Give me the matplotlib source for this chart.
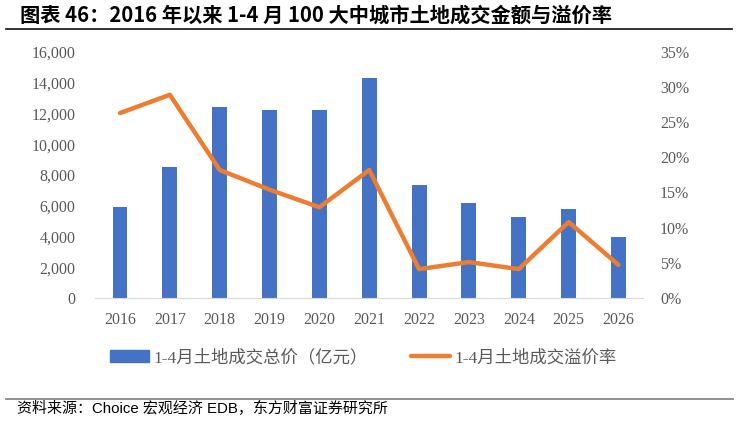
import matplotlib.pyplot as plt
from matplotlib.lines import Line2D
from matplotlib.ticker import FuncFormatter, MultipleLocator
import numpy as np

years = ["2016", "2017", "2018", "2019", "2020", "2021", "2022", "2023", "2024", "2025", "2026"]
total_price = [5900, 8500, 12400, 12250, 12250, 14300, 7350, 6180, 5270, 5790, 3970]
premium_rate = [26.3, 28.9, 18.2, 15.4, 12.9, 18.2, 4.1, 5.1, 4.1, 10.8, 4.7]

bar_label = "1-4月土地成交总价（亿元）"
line_label = "1-4月土地成交溢价率"
title = "图表 46：2016 年以来 1-4 月 100 大中城市土地成交金额与溢价率"
source = "资料来源：Choice 宏观经济 EDB，东方财富证券研究所"

serif = ["Liberation Serif", "Noto Sans CJK SC"]
cjk = ["Noto Sans CJK SC", "DejaVu Sans"]
gray = "#595959"

fig = plt.figure(figsize=(7.37, 4.22), dpi=100)
ax = fig.add_axes([0.129, 0.294, 0.744, 0.583])
ax2 = ax.twinx()

x = np.arange(len(years))
ax.bar(x, total_price, width=0.3, color="#4472C4", zorder=2)
ax2.plot(x, premium_rate, color="#ED7D31", lw=3.2, solid_capstyle="round",
         solid_joinstyle="round", zorder=3)

ax.set_xlim(-0.5, len(years) - 0.5)
ax.set_ylim(0, 16000)
ax2.set_ylim(0, 35)
ax.yaxis.set_major_locator(MultipleLocator(2000))
ax2.yaxis.set_major_locator(MultipleLocator(5))
ax.yaxis.set_major_formatter(FuncFormatter(lambda v, p: f"{v:,.0f}"))
ax2.yaxis.set_major_formatter(FuncFormatter(lambda v, p: f"{v:.0f}%"))
ax.set_xticks(x)
ax.set_xticklabels(years)

for a in (ax, ax2):
    for s in a.spines.values():
        s.set_visible(False)
    a.tick_params(length=0, labelsize=11.5, labelcolor=gray)
    for lab in a.get_xticklabels() + a.get_yticklabels():
        lab.set_family(serif)
ax.spines["bottom"].set_visible(True)
ax.spines["bottom"].set_color("#D9D9D9")
ax.tick_params(axis="y", pad=14)
ax.tick_params(axis="x", pad=10)
ax2.tick_params(axis="y", pad=12)

handles = [plt.Rectangle((0, 0), 1, 1, color="#4472C4"),
           Line2D([], [], color="#ED7D31", lw=3.2, solid_capstyle="round")]
fig.legend(handles, [bar_label, line_label], loc="center left",
           bbox_to_anchor=(0.1275, 0.152), ncol=2, frameon=False,
           prop={"family": serif, "size": 12.5}, labelcolor=gray,
           handlelength=2.25, handletextpad=0.25, columnspacing=2.5)

fig.text(0.027, 0.964, title, fontsize=14.6, fontweight="bold",
         family=cjk, va="center", ha="left")
fig.add_artist(Line2D([0.008, 0.993], [0.931, 0.931], color="#222222", lw=1.3))
fig.add_artist(Line2D([0.008, 0.995], [0.055, 0.055], color="#888888", lw=1.3))
fig.text(0.023, 0.033, source, fontsize=10.8, family=["Liberation Sans", "Noto Sans CJK SC"],
         va="center", ha="left")

fig.savefig("out.png", dpi=100)
